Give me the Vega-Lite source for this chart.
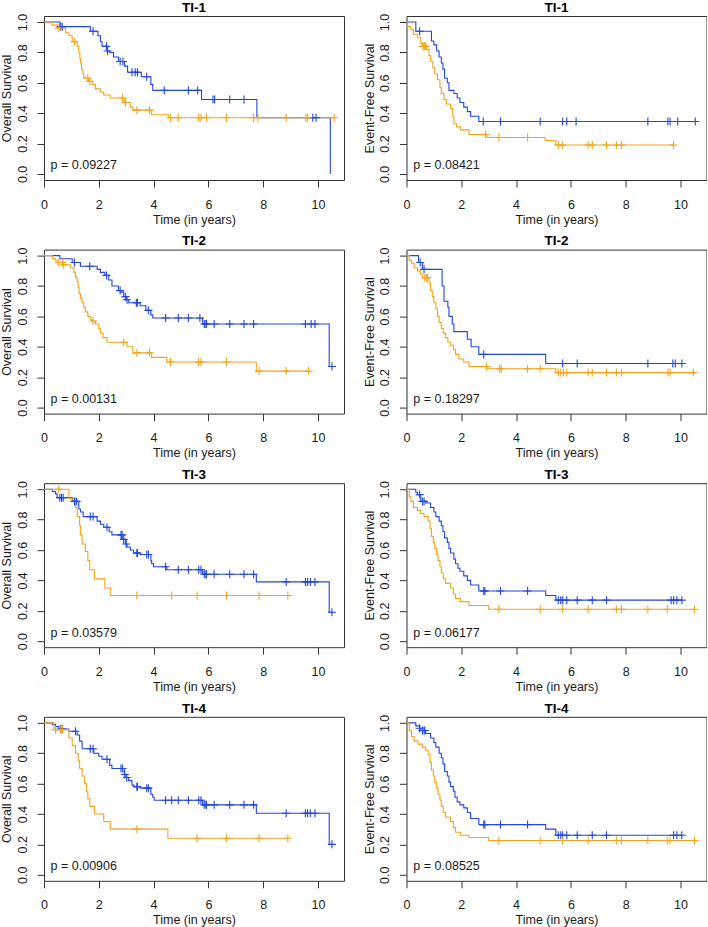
{
"$schema": "https://vega.github.io/schema/vega-lite/v6.json",
"background": "white",
"padding": 0,
"bounds": "flush",
"columns": 2,
"spacing": {"row": 69.6, "column": 62.5},
"datasets": {
"s": [
{"p":1,"g":"b","t":0,"v":1},{"p":1,"g":"b","t":0.58,"v":0.97},{"p":1,"g":"b","t":1.69,"v":0.94},{"p":1,"g":"b","t":1.97,"v":0.91},{"p":1,"g":"b","t":2.06,"v":0.87},{"p":1,"g":"b","t":2.12,"v":0.84},{"p":1,"g":"b","t":2.30,"v":0.81},{"p":1,"g":"b","t":2.40,"v":0.80},{"p":1,"g":"b","t":2.54,"v":0.77},{"p":1,"g":"b","t":2.72,"v":0.74},{"p":1,"g":"b","t":2.94,"v":0.71},{"p":1,"g":"b","t":3.05,"v":0.67},{"p":1,"g":"b","t":3.55,"v":0.64},{"p":1,"g":"b","t":3.90,"v":0.59},{"p":1,"g":"b","t":3.97,"v":0.55},{"p":1,"g":"b","t":5.75,"v":0.49},{"p":1,"g":"b","t":7.77,"v":0.37},{"p":1,"g":"b","t":10.45,"v":0},
{"p":1,"g":"o","t":0,"v":1},{"p":1,"g":"o","t":0.30,"v":0.98},{"p":1,"g":"o","t":0.48,"v":0.96},{"p":1,"g":"o","t":0.79,"v":0.93},{"p":1,"g":"o","t":0.91,"v":0.91},{"p":1,"g":"o","t":1.03,"v":0.87},{"p":1,"g":"o","t":1.21,"v":0.84},{"p":1,"g":"o","t":1.27,"v":0.80},{"p":1,"g":"o","t":1.31,"v":0.76},{"p":1,"g":"o","t":1.33,"v":0.73},{"p":1,"g":"o","t":1.37,"v":0.69},{"p":1,"g":"o","t":1.42,"v":0.66},{"p":1,"g":"o","t":1.45,"v":0.63},{"p":1,"g":"o","t":1.62,"v":0.61},{"p":1,"g":"o","t":1.76,"v":0.59},{"p":1,"g":"o","t":1.88,"v":0.56},{"p":1,"g":"o","t":2.06,"v":0.54},{"p":1,"g":"o","t":2.18,"v":0.52},{"p":1,"g":"o","t":2.42,"v":0.50},{"p":1,"g":"o","t":2.93,"v":0.47},{"p":1,"g":"o","t":3.15,"v":0.44},{"p":1,"g":"o","t":3.24,"v":0.42},{"p":1,"g":"o","t":3.93,"v":0.39},{"p":1,"g":"o","t":4.54,"v":0.37},{"p":1,"g":"o","t":10.59,"v":0.37},
{"p":2,"g":"b","t":0,"v":1},{"p":2,"g":"b","t":0.34,"v":0.94},{"p":2,"g":"b","t":0.91,"v":0.875},{"p":2,"g":"b","t":1.00,"v":0.85},{"p":2,"g":"b","t":1.10,"v":0.81},{"p":2,"g":"b","t":1.19,"v":0.77},{"p":2,"g":"b","t":1.27,"v":0.73},{"p":2,"g":"b","t":1.33,"v":0.69},{"p":2,"g":"b","t":1.39,"v":0.63},{"p":2,"g":"b","t":1.49,"v":0.60},{"p":2,"g":"b","t":1.55,"v":0.55},{"p":2,"g":"b","t":1.73,"v":0.53},{"p":2,"g":"b","t":1.85,"v":0.50},{"p":2,"g":"b","t":1.95,"v":0.47},{"p":2,"g":"b","t":2.09,"v":0.44},{"p":2,"g":"b","t":2.22,"v":0.41},{"p":2,"g":"b","t":2.34,"v":0.38},{"p":2,"g":"b","t":2.64,"v":0.345},{"p":2,"g":"b","t":10.54,"v":0.345},
{"p":2,"g":"o","t":0,"v":1},{"p":2,"g":"o","t":0.04,"v":0.97},{"p":2,"g":"o","t":0.16,"v":0.95},{"p":2,"g":"o","t":0.25,"v":0.92},{"p":2,"g":"o","t":0.40,"v":0.90},{"p":2,"g":"o","t":0.52,"v":0.86},{"p":2,"g":"o","t":0.58,"v":0.84},{"p":2,"g":"o","t":0.74,"v":0.82},{"p":2,"g":"o","t":0.82,"v":0.78},{"p":2,"g":"o","t":0.88,"v":0.74},{"p":2,"g":"o","t":0.96,"v":0.70},{"p":2,"g":"o","t":1.03,"v":0.66},{"p":2,"g":"o","t":1.13,"v":0.62},{"p":2,"g":"o","t":1.22,"v":0.57},{"p":2,"g":"o","t":1.27,"v":0.53},{"p":2,"g":"o","t":1.37,"v":0.49},{"p":2,"g":"o","t":1.46,"v":0.46},{"p":2,"g":"o","t":1.61,"v":0.43},{"p":2,"g":"o","t":1.69,"v":0.38},{"p":2,"g":"o","t":1.73,"v":0.33},{"p":2,"g":"o","t":1.83,"v":0.31},{"p":2,"g":"o","t":1.97,"v":0.29},{"p":2,"g":"o","t":2.28,"v":0.26},{"p":2,"g":"o","t":2.94,"v":0.24},{"p":2,"g":"o","t":5.06,"v":0.22},{"p":2,"g":"o","t":5.45,"v":0.19},{"p":2,"g":"o","t":9.75,"v":0.19},
{"p":3,"g":"b","t":0,"v":1},{"p":3,"g":"b","t":0.58,"v":0.98},{"p":3,"g":"b","t":1.03,"v":0.955},{"p":3,"g":"b","t":1.33,"v":0.93},{"p":3,"g":"b","t":1.94,"v":0.91},{"p":3,"g":"b","t":2.06,"v":0.89},{"p":3,"g":"b","t":2.22,"v":0.87},{"p":3,"g":"b","t":2.36,"v":0.84},{"p":3,"g":"b","t":2.48,"v":0.80},{"p":3,"g":"b","t":2.72,"v":0.77},{"p":3,"g":"b","t":2.81,"v":0.76},{"p":3,"g":"b","t":2.91,"v":0.73},{"p":3,"g":"b","t":3.00,"v":0.71},{"p":3,"g":"b","t":3.09,"v":0.69},{"p":3,"g":"b","t":3.51,"v":0.67},{"p":3,"g":"b","t":3.72,"v":0.64},{"p":3,"g":"b","t":3.90,"v":0.61},{"p":3,"g":"b","t":3.97,"v":0.59},{"p":3,"g":"b","t":5.79,"v":0.55},{"p":3,"g":"b","t":10.41,"v":0.27},{"p":3,"g":"b","t":10.51,"v":0.27},
{"p":3,"g":"o","t":0,"v":1},{"p":3,"g":"o","t":0.30,"v":0.98},{"p":3,"g":"o","t":0.42,"v":0.97},{"p":3,"g":"o","t":0.48,"v":0.955},{"p":3,"g":"o","t":0.69,"v":0.94},{"p":3,"g":"o","t":0.97,"v":0.92},{"p":3,"g":"o","t":1.09,"v":0.89},{"p":3,"g":"o","t":1.15,"v":0.86},{"p":3,"g":"o","t":1.21,"v":0.83},{"p":3,"g":"o","t":1.25,"v":0.79},{"p":3,"g":"o","t":1.28,"v":0.75},{"p":3,"g":"o","t":1.33,"v":0.72},{"p":3,"g":"o","t":1.39,"v":0.69},{"p":3,"g":"o","t":1.45,"v":0.66},{"p":3,"g":"o","t":1.51,"v":0.63},{"p":3,"g":"o","t":1.60,"v":0.60},{"p":3,"g":"o","t":1.69,"v":0.58},{"p":3,"g":"o","t":1.74,"v":0.57},{"p":3,"g":"o","t":1.88,"v":0.55},{"p":3,"g":"o","t":2.00,"v":0.52},{"p":3,"g":"o","t":2.06,"v":0.49},{"p":3,"g":"o","t":2.15,"v":0.46},{"p":3,"g":"o","t":2.30,"v":0.43},{"p":3,"g":"o","t":3.03,"v":0.40},{"p":3,"g":"o","t":3.24,"v":0.36},{"p":3,"g":"o","t":3.93,"v":0.33},{"p":3,"g":"o","t":4.48,"v":0.30},{"p":3,"g":"o","t":7.75,"v":0.24},{"p":3,"g":"o","t":9.66,"v":0.24},
{"p":4,"g":"b","t":0,"v":1},{"p":4,"g":"b","t":0.44,"v":0.955},{"p":4,"g":"b","t":0.58,"v":0.91},{"p":4,"g":"b","t":1.30,"v":0.80},{"p":4,"g":"b","t":1.37,"v":0.70},{"p":4,"g":"b","t":1.51,"v":0.66},{"p":4,"g":"b","t":1.55,"v":0.60},{"p":4,"g":"b","t":1.67,"v":0.55},{"p":4,"g":"b","t":1.73,"v":0.50},{"p":4,"g":"b","t":2.22,"v":0.45},{"p":4,"g":"b","t":2.36,"v":0.40},{"p":4,"g":"b","t":2.64,"v":0.35},{"p":4,"g":"b","t":5.08,"v":0.29},{"p":4,"g":"b","t":10.05,"v":0.29},
{"p":4,"g":"o","t":0,"v":1},{"p":4,"g":"o","t":0.10,"v":0.97},{"p":4,"g":"o","t":0.18,"v":0.95},{"p":4,"g":"o","t":0.28,"v":0.92},{"p":4,"g":"o","t":0.40,"v":0.90},{"p":4,"g":"o","t":0.50,"v":0.88},{"p":4,"g":"o","t":0.58,"v":0.855},{"p":4,"g":"o","t":0.82,"v":0.82},{"p":4,"g":"o","t":0.88,"v":0.77},{"p":4,"g":"o","t":0.94,"v":0.73},{"p":4,"g":"o","t":1.00,"v":0.69},{"p":4,"g":"o","t":1.07,"v":0.65},{"p":4,"g":"o","t":1.13,"v":0.60},{"p":4,"g":"o","t":1.19,"v":0.56},{"p":4,"g":"o","t":1.27,"v":0.52},{"p":4,"g":"o","t":1.34,"v":0.49},{"p":4,"g":"o","t":1.43,"v":0.46},{"p":4,"g":"o","t":1.51,"v":0.43},{"p":4,"g":"o","t":1.61,"v":0.41},{"p":4,"g":"o","t":1.71,"v":0.38},{"p":4,"g":"o","t":1.79,"v":0.35},{"p":4,"g":"o","t":1.91,"v":0.32},{"p":4,"g":"o","t":2.09,"v":0.30},{"p":4,"g":"o","t":2.28,"v":0.27},{"p":4,"g":"o","t":2.94,"v":0.255},{"p":4,"g":"o","t":5.45,"v":0.23},{"p":4,"g":"o","t":10.47,"v":0.23},
{"p":5,"g":"b","t":0,"v":1},{"p":5,"g":"b","t":0.30,"v":0.985},{"p":5,"g":"b","t":0.42,"v":0.97},{"p":5,"g":"b","t":0.48,"v":0.945},{"p":5,"g":"b","t":1.03,"v":0.92},{"p":5,"g":"b","t":1.27,"v":0.87},{"p":5,"g":"b","t":1.33,"v":0.85},{"p":5,"g":"b","t":1.43,"v":0.82},{"p":5,"g":"b","t":1.94,"v":0.79},{"p":5,"g":"b","t":2.06,"v":0.77},{"p":5,"g":"b","t":2.18,"v":0.75},{"p":5,"g":"b","t":2.38,"v":0.72},{"p":5,"g":"b","t":2.48,"v":0.70},{"p":5,"g":"b","t":2.85,"v":0.67},{"p":5,"g":"b","t":2.97,"v":0.64},{"p":5,"g":"b","t":3.03,"v":0.62},{"p":5,"g":"b","t":3.15,"v":0.60},{"p":5,"g":"b","t":3.27,"v":0.58},{"p":5,"g":"b","t":3.51,"v":0.57},{"p":5,"g":"b","t":3.90,"v":0.53},{"p":5,"g":"b","t":3.93,"v":0.51},{"p":5,"g":"b","t":4.00,"v":0.49},{"p":5,"g":"b","t":4.48,"v":0.47},{"p":5,"g":"b","t":5.79,"v":0.44},{"p":5,"g":"b","t":7.75,"v":0.39},{"p":5,"g":"b","t":10.41,"v":0.19},{"p":5,"g":"b","t":10.51,"v":0.19},
{"p":5,"g":"o","t":0,"v":1},{"p":5,"g":"o","t":0.91,"v":0.94},{"p":5,"g":"o","t":1.15,"v":0.88},{"p":5,"g":"o","t":1.21,"v":0.82},{"p":5,"g":"o","t":1.30,"v":0.76},{"p":5,"g":"o","t":1.33,"v":0.70},{"p":5,"g":"o","t":1.39,"v":0.64},{"p":5,"g":"o","t":1.51,"v":0.59},{"p":5,"g":"o","t":1.60,"v":0.53},{"p":5,"g":"o","t":1.67,"v":0.47},{"p":5,"g":"o","t":1.84,"v":0.41},{"p":5,"g":"o","t":2.22,"v":0.35},{"p":5,"g":"o","t":2.42,"v":0.30},{"p":5,"g":"o","t":8.90,"v":0.30},
{"p":6,"g":"b","t":0,"v":1},{"p":6,"g":"b","t":0.34,"v":0.98},{"p":6,"g":"b","t":0.40,"v":0.965},{"p":6,"g":"b","t":0.52,"v":0.92},{"p":6,"g":"b","t":0.70,"v":0.91},{"p":6,"g":"b","t":0.88,"v":0.88},{"p":6,"g":"b","t":1.00,"v":0.85},{"p":6,"g":"b","t":1.07,"v":0.82},{"p":6,"g":"b","t":1.19,"v":0.79},{"p":6,"g":"b","t":1.27,"v":0.76},{"p":6,"g":"b","t":1.33,"v":0.72},{"p":6,"g":"b","t":1.39,"v":0.68},{"p":6,"g":"b","t":1.49,"v":0.65},{"p":6,"g":"b","t":1.55,"v":0.61},{"p":6,"g":"b","t":1.61,"v":0.58},{"p":6,"g":"b","t":1.73,"v":0.54},{"p":6,"g":"b","t":1.79,"v":0.51},{"p":6,"g":"b","t":1.88,"v":0.48},{"p":6,"g":"b","t":1.95,"v":0.46},{"p":6,"g":"b","t":2.09,"v":0.43},{"p":6,"g":"b","t":2.22,"v":0.40},{"p":6,"g":"b","t":2.34,"v":0.37},{"p":6,"g":"b","t":2.64,"v":0.33},{"p":6,"g":"b","t":5.08,"v":0.30},{"p":6,"g":"b","t":5.45,"v":0.27},{"p":6,"g":"b","t":10.05,"v":0.27},
{"p":6,"g":"o","t":0,"v":1},{"p":6,"g":"o","t":0.10,"v":0.95},{"p":6,"g":"o","t":0.16,"v":0.92},{"p":6,"g":"o","t":0.25,"v":0.88},{"p":6,"g":"o","t":0.40,"v":0.86},{"p":6,"g":"o","t":0.52,"v":0.84},{"p":6,"g":"o","t":0.64,"v":0.82},{"p":6,"g":"o","t":0.79,"v":0.79},{"p":6,"g":"o","t":0.86,"v":0.74},{"p":6,"g":"o","t":0.91,"v":0.69},{"p":6,"g":"o","t":0.98,"v":0.65},{"p":6,"g":"o","t":1.03,"v":0.61},{"p":6,"g":"o","t":1.10,"v":0.57},{"p":6,"g":"o","t":1.15,"v":0.53},{"p":6,"g":"o","t":1.22,"v":0.49},{"p":6,"g":"o","t":1.27,"v":0.45},{"p":6,"g":"o","t":1.34,"v":0.41},{"p":6,"g":"o","t":1.43,"v":0.38},{"p":6,"g":"o","t":1.61,"v":0.35},{"p":6,"g":"o","t":1.71,"v":0.31},{"p":6,"g":"o","t":1.79,"v":0.28},{"p":6,"g":"o","t":1.97,"v":0.26},{"p":6,"g":"o","t":2.28,"v":0.235},{"p":6,"g":"o","t":3.00,"v":0.21},{"p":6,"g":"o","t":10.51,"v":0.21},
{"p":7,"g":"b","t":0,"v":1},{"p":7,"g":"b","t":0.30,"v":0.99},{"p":7,"g":"b","t":0.42,"v":0.975},{"p":7,"g":"b","t":0.55,"v":0.96},{"p":7,"g":"b","t":0.90,"v":0.945},{"p":7,"g":"b","t":1.21,"v":0.92},{"p":7,"g":"b","t":1.30,"v":0.88},{"p":7,"g":"b","t":1.39,"v":0.83},{"p":7,"g":"b","t":1.82,"v":0.80},{"p":7,"g":"b","t":2.00,"v":0.78},{"p":7,"g":"b","t":2.12,"v":0.76},{"p":7,"g":"b","t":2.40,"v":0.72},{"p":7,"g":"b","t":2.48,"v":0.70},{"p":7,"g":"b","t":2.93,"v":0.66},{"p":7,"g":"b","t":2.99,"v":0.64},{"p":7,"g":"b","t":3.09,"v":0.62},{"p":7,"g":"b","t":3.21,"v":0.59},{"p":7,"g":"b","t":3.29,"v":0.58},{"p":7,"g":"b","t":3.51,"v":0.57},{"p":7,"g":"b","t":3.90,"v":0.53},{"p":7,"g":"b","t":3.97,"v":0.51},{"p":7,"g":"b","t":4.02,"v":0.49},{"p":7,"g":"b","t":5.79,"v":0.46},{"p":7,"g":"b","t":7.75,"v":0.405},{"p":7,"g":"b","t":10.41,"v":0.20},{"p":7,"g":"b","t":10.51,"v":0.20},
{"p":7,"g":"o","t":0,"v":1},{"p":7,"g":"o","t":0.36,"v":0.955},{"p":7,"g":"o","t":0.91,"v":0.90},{"p":7,"g":"o","t":1.03,"v":0.85},{"p":7,"g":"o","t":1.15,"v":0.80},{"p":7,"g":"o","t":1.25,"v":0.75},{"p":7,"g":"o","t":1.30,"v":0.70},{"p":7,"g":"o","t":1.39,"v":0.65},{"p":7,"g":"o","t":1.48,"v":0.60},{"p":7,"g":"o","t":1.55,"v":0.55},{"p":7,"g":"o","t":1.60,"v":0.50},{"p":7,"g":"o","t":1.67,"v":0.45},{"p":7,"g":"o","t":1.84,"v":0.40},{"p":7,"g":"o","t":2.18,"v":0.35},{"p":7,"g":"o","t":2.42,"v":0.30},{"p":7,"g":"o","t":4.52,"v":0.24},{"p":7,"g":"o","t":8.90,"v":0.24},
{"p":8,"g":"b","t":0,"v":1},{"p":8,"g":"b","t":0.34,"v":0.98},{"p":8,"g":"b","t":0.48,"v":0.965},{"p":8,"g":"b","t":0.52,"v":0.95},{"p":8,"g":"b","t":0.70,"v":0.93},{"p":8,"g":"b","t":0.88,"v":0.90},{"p":8,"g":"b","t":1.00,"v":0.87},{"p":8,"g":"b","t":1.07,"v":0.84},{"p":8,"g":"b","t":1.19,"v":0.80},{"p":8,"g":"b","t":1.27,"v":0.77},{"p":8,"g":"b","t":1.33,"v":0.73},{"p":8,"g":"b","t":1.39,"v":0.68},{"p":8,"g":"b","t":1.49,"v":0.65},{"p":8,"g":"b","t":1.55,"v":0.61},{"p":8,"g":"b","t":1.61,"v":0.58},{"p":8,"g":"b","t":1.71,"v":0.55},{"p":8,"g":"b","t":1.77,"v":0.51},{"p":8,"g":"b","t":1.85,"v":0.48},{"p":8,"g":"b","t":1.95,"v":0.46},{"p":8,"g":"b","t":2.09,"v":0.44},{"p":8,"g":"b","t":2.22,"v":0.41},{"p":8,"g":"b","t":2.34,"v":0.37},{"p":8,"g":"b","t":2.64,"v":0.33},{"p":8,"g":"b","t":5.08,"v":0.30},{"p":8,"g":"b","t":5.45,"v":0.26},{"p":8,"g":"b","t":10.05,"v":0.26},
{"p":8,"g":"o","t":0,"v":1},{"p":8,"g":"o","t":0.10,"v":0.95},{"p":8,"g":"o","t":0.18,"v":0.91},{"p":8,"g":"o","t":0.28,"v":0.88},{"p":8,"g":"o","t":0.42,"v":0.86},{"p":8,"g":"o","t":0.58,"v":0.84},{"p":8,"g":"o","t":0.70,"v":0.82},{"p":8,"g":"o","t":0.79,"v":0.79},{"p":8,"g":"o","t":0.86,"v":0.74},{"p":8,"g":"o","t":0.91,"v":0.69},{"p":8,"g":"o","t":0.98,"v":0.65},{"p":8,"g":"o","t":1.03,"v":0.61},{"p":8,"g":"o","t":1.10,"v":0.57},{"p":8,"g":"o","t":1.15,"v":0.53},{"p":8,"g":"o","t":1.22,"v":0.49},{"p":8,"g":"o","t":1.27,"v":0.45},{"p":8,"g":"o","t":1.34,"v":0.41},{"p":8,"g":"o","t":1.43,"v":0.38},{"p":8,"g":"o","t":1.61,"v":0.35},{"p":8,"g":"o","t":1.71,"v":0.31},{"p":8,"g":"o","t":1.79,"v":0.28},{"p":8,"g":"o","t":1.97,"v":0.26},{"p":8,"g":"o","t":2.28,"v":0.245},{"p":8,"g":"o","t":3.00,"v":0.225},{"p":8,"g":"o","t":10.51,"v":0.225}
],
"c": [
{"p":1,"g":"b","t":0.61,"v":0.97},{"p":1,"g":"b","t":0.67,"v":0.97},{"p":1,"g":"b","t":1.79,"v":0.94},{"p":1,"g":"b","t":2.28,"v":0.84},{"p":1,"g":"b","t":2.32,"v":0.81},{"p":1,"g":"b","t":2.78,"v":0.74},{"p":1,"g":"b","t":2.88,"v":0.74},{"p":1,"g":"b","t":3.21,"v":0.67},{"p":1,"g":"b","t":3.33,"v":0.67},{"p":1,"g":"b","t":3.41,"v":0.67},{"p":1,"g":"b","t":3.75,"v":0.64},{"p":1,"g":"b","t":4.39,"v":0.55},{"p":1,"g":"b","t":5.27,"v":0.55},{"p":1,"g":"b","t":5.61,"v":0.55},{"p":1,"g":"b","t":6.17,"v":0.49},{"p":1,"g":"b","t":6.23,"v":0.49},{"p":1,"g":"b","t":6.78,"v":0.49},{"p":1,"g":"b","t":7.30,"v":0.49},{"p":1,"g":"b","t":9.81,"v":0.37},{"p":1,"g":"b","t":9.93,"v":0.37},
{"p":1,"g":"o","t":0.54,"v":0.96},{"p":1,"g":"o","t":1.11,"v":0.87},{"p":1,"g":"o","t":1.60,"v":0.63},{"p":1,"g":"o","t":1.67,"v":0.61},{"p":1,"g":"o","t":2.87,"v":0.50},{"p":1,"g":"o","t":2.97,"v":0.47},{"p":1,"g":"o","t":3.39,"v":0.42},{"p":1,"g":"o","t":3.85,"v":0.42},{"p":1,"g":"o","t":4.62,"v":0.37},{"p":1,"g":"o","t":4.90,"v":0.37},{"p":1,"g":"o","t":5.65,"v":0.37},{"p":1,"g":"o","t":5.73,"v":0.37},{"p":1,"g":"o","t":5.93,"v":0.37},{"p":1,"g":"o","t":6.66,"v":0.37},{"p":1,"g":"o","t":7.65,"v":0.37},{"p":1,"g":"o","t":7.81,"v":0.37},{"p":1,"g":"o","t":8.84,"v":0.37},{"p":1,"g":"o","t":9.56,"v":0.37},{"p":1,"g":"o","t":9.62,"v":0.37},{"p":1,"g":"o","t":10.59,"v":0.37},
{"p":2,"g":"b","t":0.48,"v":0.94},{"p":2,"g":"b","t":2.80,"v":0.345},{"p":2,"g":"b","t":3.43,"v":0.345},{"p":2,"g":"b","t":4.88,"v":0.345},{"p":2,"g":"b","t":5.70,"v":0.345},{"p":2,"g":"b","t":5.85,"v":0.345},{"p":2,"g":"b","t":6.19,"v":0.345},{"p":2,"g":"b","t":8.81,"v":0.345},{"p":2,"g":"b","t":9.54,"v":0.345},{"p":2,"g":"b","t":9.62,"v":0.345},{"p":2,"g":"b","t":9.90,"v":0.345},{"p":2,"g":"b","t":10.54,"v":0.345},
{"p":2,"g":"o","t":0.60,"v":0.84},{"p":2,"g":"o","t":0.64,"v":0.84},{"p":2,"g":"o","t":0.67,"v":0.84},{"p":2,"g":"o","t":0.70,"v":0.84},{"p":2,"g":"o","t":2.88,"v":0.26},{"p":2,"g":"o","t":3.37,"v":0.24},{"p":2,"g":"o","t":4.42,"v":0.24},{"p":2,"g":"o","t":5.54,"v":0.19},{"p":2,"g":"o","t":5.69,"v":0.19},{"p":2,"g":"o","t":6.63,"v":0.19},{"p":2,"g":"o","t":6.78,"v":0.19},{"p":2,"g":"o","t":7.30,"v":0.19},{"p":2,"g":"o","t":7.66,"v":0.19},{"p":2,"g":"o","t":7.85,"v":0.19},{"p":2,"g":"o","t":9.75,"v":0.19},
{"p":3,"g":"b","t":1.11,"v":0.955},{"p":3,"g":"b","t":1.67,"v":0.93},{"p":3,"g":"b","t":2.28,"v":0.87},{"p":3,"g":"b","t":2.78,"v":0.77},{"p":3,"g":"b","t":2.97,"v":0.73},{"p":3,"g":"b","t":3.03,"v":0.71},{"p":3,"g":"b","t":3.37,"v":0.69},{"p":3,"g":"b","t":3.41,"v":0.69},{"p":3,"g":"b","t":3.81,"v":0.64},{"p":3,"g":"b","t":4.44,"v":0.59},{"p":3,"g":"b","t":4.90,"v":0.59},{"p":3,"g":"b","t":5.27,"v":0.59},{"p":3,"g":"b","t":5.69,"v":0.59},{"p":3,"g":"b","t":5.85,"v":0.55},{"p":3,"g":"b","t":5.91,"v":0.55},{"p":3,"g":"b","t":5.93,"v":0.55},{"p":3,"g":"b","t":6.21,"v":0.55},{"p":3,"g":"b","t":6.78,"v":0.55},{"p":3,"g":"b","t":7.30,"v":0.55},{"p":3,"g":"b","t":7.65,"v":0.55},{"p":3,"g":"b","t":9.54,"v":0.55},{"p":3,"g":"b","t":9.75,"v":0.55},{"p":3,"g":"b","t":9.89,"v":0.55},{"p":3,"g":"b","t":10.51,"v":0.27},
{"p":3,"g":"o","t":0.54,"v":0.955},{"p":3,"g":"o","t":0.67,"v":0.955},{"p":3,"g":"o","t":0.72,"v":0.94},{"p":3,"g":"o","t":1.79,"v":0.57},{"p":3,"g":"o","t":2.91,"v":0.43},{"p":3,"g":"o","t":3.39,"v":0.36},{"p":3,"g":"o","t":3.85,"v":0.36},{"p":3,"g":"o","t":4.62,"v":0.30},{"p":3,"g":"o","t":5.64,"v":0.30},{"p":3,"g":"o","t":5.73,"v":0.30},{"p":3,"g":"o","t":6.66,"v":0.30},{"p":3,"g":"o","t":7.85,"v":0.24},{"p":3,"g":"o","t":8.84,"v":0.24},{"p":3,"g":"o","t":9.66,"v":0.24},
{"p":4,"g":"b","t":0.50,"v":0.955},{"p":4,"g":"b","t":0.64,"v":0.91},{"p":4,"g":"b","t":2.82,"v":0.35},{"p":4,"g":"b","t":5.70,"v":0.29},{"p":4,"g":"b","t":6.23,"v":0.29},{"p":4,"g":"b","t":8.81,"v":0.29},{"p":4,"g":"b","t":9.72,"v":0.29},{"p":4,"g":"b","t":9.81,"v":0.29},{"p":4,"g":"b","t":10.05,"v":0.29},
{"p":4,"g":"o","t":0.67,"v":0.855},{"p":4,"g":"o","t":0.72,"v":0.855},{"p":4,"g":"o","t":0.76,"v":0.855},{"p":4,"g":"o","t":2.92,"v":0.27},{"p":4,"g":"o","t":3.40,"v":0.255},{"p":4,"g":"o","t":3.46,"v":0.255},{"p":4,"g":"o","t":4.42,"v":0.255},{"p":4,"g":"o","t":4.88,"v":0.255},{"p":4,"g":"o","t":5.54,"v":0.23},{"p":4,"g":"o","t":5.63,"v":0.23},{"p":4,"g":"o","t":5.73,"v":0.23},{"p":4,"g":"o","t":5.85,"v":0.23},{"p":4,"g":"o","t":6.63,"v":0.23},{"p":4,"g":"o","t":6.78,"v":0.23},{"p":4,"g":"o","t":7.30,"v":0.23},{"p":4,"g":"o","t":7.66,"v":0.23},{"p":4,"g":"o","t":7.85,"v":0.23},{"p":4,"g":"o","t":9.54,"v":0.23},{"p":4,"g":"o","t":9.62,"v":0.23},{"p":4,"g":"o","t":10.47,"v":0.23},
{"p":5,"g":"b","t":0.58,"v":0.945},{"p":5,"g":"b","t":0.64,"v":0.945},{"p":5,"g":"b","t":0.70,"v":0.945},{"p":5,"g":"b","t":1.11,"v":0.92},{"p":5,"g":"b","t":1.19,"v":0.92},{"p":5,"g":"b","t":1.69,"v":0.82},{"p":5,"g":"b","t":1.79,"v":0.82},{"p":5,"g":"b","t":2.30,"v":0.75},{"p":5,"g":"b","t":2.81,"v":0.70},{"p":5,"g":"b","t":2.85,"v":0.70},{"p":5,"g":"b","t":2.91,"v":0.67},{"p":5,"g":"b","t":3.00,"v":0.64},{"p":5,"g":"b","t":3.39,"v":0.58},{"p":5,"g":"b","t":3.41,"v":0.58},{"p":5,"g":"b","t":3.75,"v":0.57},{"p":5,"g":"b","t":3.81,"v":0.57},{"p":5,"g":"b","t":4.44,"v":0.49},{"p":5,"g":"b","t":4.90,"v":0.47},{"p":5,"g":"b","t":5.27,"v":0.47},{"p":5,"g":"b","t":5.65,"v":0.47},{"p":5,"g":"b","t":5.73,"v":0.47},{"p":5,"g":"b","t":5.85,"v":0.44},{"p":5,"g":"b","t":5.91,"v":0.44},{"p":5,"g":"b","t":5.93,"v":0.44},{"p":5,"g":"b","t":6.21,"v":0.44},{"p":5,"g":"b","t":6.78,"v":0.44},{"p":5,"g":"b","t":7.30,"v":0.44},{"p":5,"g":"b","t":7.65,"v":0.44},{"p":5,"g":"b","t":8.84,"v":0.39},{"p":5,"g":"b","t":9.54,"v":0.39},{"p":5,"g":"b","t":9.62,"v":0.39},{"p":5,"g":"b","t":9.72,"v":0.39},{"p":5,"g":"b","t":9.89,"v":0.39},{"p":5,"g":"b","t":10.51,"v":0.19},
{"p":5,"g":"o","t":0.54,"v":1},{"p":5,"g":"o","t":3.39,"v":0.30},{"p":5,"g":"o","t":4.66,"v":0.30},{"p":5,"g":"o","t":5.59,"v":0.30},{"p":5,"g":"o","t":6.66,"v":0.30},{"p":5,"g":"o","t":7.85,"v":0.30},{"p":5,"g":"o","t":8.90,"v":0.30},
{"p":6,"g":"b","t":0.48,"v":0.965},{"p":6,"g":"b","t":0.58,"v":0.92},{"p":6,"g":"b","t":0.64,"v":0.92},{"p":6,"g":"b","t":2.82,"v":0.33},{"p":6,"g":"b","t":2.86,"v":0.33},{"p":6,"g":"b","t":3.43,"v":0.33},{"p":6,"g":"b","t":4.42,"v":0.33},{"p":6,"g":"b","t":5.54,"v":0.27},{"p":6,"g":"b","t":5.63,"v":0.27},{"p":6,"g":"b","t":5.70,"v":0.27},{"p":6,"g":"b","t":5.85,"v":0.27},{"p":6,"g":"b","t":6.23,"v":0.27},{"p":6,"g":"b","t":6.78,"v":0.27},{"p":6,"g":"b","t":7.30,"v":0.27},{"p":6,"g":"b","t":9.66,"v":0.27},{"p":6,"g":"b","t":9.75,"v":0.27},{"p":6,"g":"b","t":9.87,"v":0.27},{"p":6,"g":"b","t":10.05,"v":0.27},
{"p":6,"g":"o","t":3.37,"v":0.21},{"p":6,"g":"o","t":4.88,"v":0.21},{"p":6,"g":"o","t":5.70,"v":0.21},{"p":6,"g":"o","t":6.63,"v":0.21},{"p":6,"g":"o","t":7.66,"v":0.21},{"p":6,"g":"o","t":7.85,"v":0.21},{"p":6,"g":"o","t":8.81,"v":0.21},{"p":6,"g":"o","t":9.52,"v":0.21},{"p":6,"g":"o","t":10.51,"v":0.21},
{"p":7,"g":"b","t":0.61,"v":0.96},{"p":7,"g":"b","t":0.67,"v":0.96},{"p":7,"g":"b","t":1.15,"v":0.945},{"p":7,"g":"b","t":1.69,"v":0.83},{"p":7,"g":"b","t":1.79,"v":0.83},{"p":7,"g":"b","t":2.30,"v":0.76},{"p":7,"g":"b","t":2.81,"v":0.70},{"p":7,"g":"b","t":2.87,"v":0.70},{"p":7,"g":"b","t":2.95,"v":0.66},{"p":7,"g":"b","t":3.02,"v":0.64},{"p":7,"g":"b","t":3.39,"v":0.58},{"p":7,"g":"b","t":3.41,"v":0.58},{"p":7,"g":"b","t":3.75,"v":0.57},{"p":7,"g":"b","t":3.81,"v":0.57},{"p":7,"g":"b","t":4.44,"v":0.49},{"p":7,"g":"b","t":4.66,"v":0.49},{"p":7,"g":"b","t":4.90,"v":0.49},{"p":7,"g":"b","t":5.27,"v":0.49},{"p":7,"g":"b","t":5.65,"v":0.49},{"p":7,"g":"b","t":5.73,"v":0.49},{"p":7,"g":"b","t":5.85,"v":0.46},{"p":7,"g":"b","t":5.91,"v":0.46},{"p":7,"g":"b","t":5.93,"v":0.46},{"p":7,"g":"b","t":6.21,"v":0.46},{"p":7,"g":"b","t":6.78,"v":0.46},{"p":7,"g":"b","t":7.30,"v":0.46},{"p":7,"g":"b","t":7.65,"v":0.46},{"p":7,"g":"b","t":8.84,"v":0.405},{"p":7,"g":"b","t":9.54,"v":0.405},{"p":7,"g":"b","t":9.62,"v":0.405},{"p":7,"g":"b","t":9.72,"v":0.405},{"p":7,"g":"b","t":9.89,"v":0.405},{"p":7,"g":"b","t":10.51,"v":0.20},
{"p":7,"g":"o","t":0.42,"v":0.955},{"p":7,"g":"o","t":0.61,"v":0.955},{"p":7,"g":"o","t":0.67,"v":0.955},{"p":7,"g":"o","t":3.39,"v":0.30},{"p":7,"g":"o","t":5.59,"v":0.24},{"p":7,"g":"o","t":6.66,"v":0.24},{"p":7,"g":"o","t":7.85,"v":0.24},{"p":7,"g":"o","t":8.90,"v":0.24},
{"p":8,"g":"b","t":0.48,"v":0.965},{"p":8,"g":"b","t":0.58,"v":0.95},{"p":8,"g":"b","t":0.64,"v":0.95},{"p":8,"g":"b","t":0.67,"v":0.95},{"p":8,"g":"b","t":2.82,"v":0.33},{"p":8,"g":"b","t":2.86,"v":0.33},{"p":8,"g":"b","t":3.43,"v":0.33},{"p":8,"g":"b","t":4.42,"v":0.33},{"p":8,"g":"b","t":5.54,"v":0.26},{"p":8,"g":"b","t":5.63,"v":0.26},{"p":8,"g":"b","t":5.70,"v":0.26},{"p":8,"g":"b","t":5.85,"v":0.26},{"p":8,"g":"b","t":6.23,"v":0.26},{"p":8,"g":"b","t":6.78,"v":0.26},{"p":8,"g":"b","t":7.30,"v":0.26},{"p":8,"g":"b","t":9.75,"v":0.26},{"p":8,"g":"b","t":9.87,"v":0.26},{"p":8,"g":"b","t":10.05,"v":0.26},
{"p":8,"g":"o","t":3.37,"v":0.225},{"p":8,"g":"o","t":4.88,"v":0.225},{"p":8,"g":"o","t":5.70,"v":0.225},{"p":8,"g":"o","t":6.63,"v":0.225},{"p":8,"g":"o","t":7.66,"v":0.225},{"p":8,"g":"o","t":7.85,"v":0.225},{"p":8,"g":"o","t":8.81,"v":0.225},{"p":8,"g":"o","t":9.52,"v":0.225},{"p":8,"g":"o","t":9.62,"v":0.225},{"p":8,"g":"o","t":10.51,"v":0.225}
],
"pv": [
{"p":1,"lab":"p = 0.09227"},{"p":2,"lab":"p = 0.08421"},{"p":3,"lab":"p = 0.00131"},{"p":4,"lab":"p = 0.18297"},{"p":5,"lab":"p = 0.03579"},{"p":6,"lab":"p = 0.06177"},{"p":7,"lab":"p = 0.00906"},{"p":8,"lab":"p = 0.08525"}
]
},
"concat": [
{"title":"TI-1","width":300,"height":164,"layer":[
 {"data":{"name":"s"},"transform":[{"filter":"datum.p==1"}],"mark":{"type":"line","interpolate":"step-after","strokeWidth":1.1},"encoding":{"x":{"field":"t","type":"quantitative","title":"Time (in years)","scale":{"domain":[0,10.95],"nice":false,"zero":false},"axis":{"values":[0,2,4,6,8,10]}},"y":{"field":"v","type":"quantitative","title":"Overall Survival","scale":{"domain":[-0.04,1.04],"nice":false,"zero":false},"axis":{"values":[0,0.2,0.4,0.6,0.8,1],"format":".1f"}},"color":{"field":"g","type":"nominal","scale":{"domain":["b","o"],"range":["#2346dc","#f3a41c"]},"legend":null}}},
 {"data":{"name":"c"},"transform":[{"filter":"datum.p==1"}],"mark":{"type":"point","shape":"M-1,0L1,0M0,-1L0,1","size":64,"filled":false,"strokeWidth":1.1,"opacity":1},"encoding":{"x":{"field":"t","type":"quantitative","title":"Time (in years)","scale":{"domain":[0,10.95],"nice":false,"zero":false},"axis":{"values":[0,2,4,6,8,10]}},"y":{"field":"v","type":"quantitative","title":"Overall Survival","scale":{"domain":[-0.04,1.04],"nice":false,"zero":false},"axis":{"values":[0,0.2,0.4,0.6,0.8,1],"format":".1f"}},"color":{"field":"g","type":"nominal","scale":{"domain":["b","o"],"range":["#2346dc","#f3a41c"]},"legend":null}}},
 {"data":{"name":"pv"},"transform":[{"filter":"datum.p==1"}],"mark":{"type":"text","align":"left","baseline":"alphabetic","fontSize":12.5,"fill":"#1a1a1a"},"encoding":{"x":{"datum":0.24,"axis":{"values":[0,2,4,6,8,10]}},"y":{"datum":0.03,"axis":{"values":[0,0.2,0.4,0.6,0.8,1],"format":".1f"}},"text":{"field":"lab","type":"nominal"}}}
]},
{"title":"TI-1","width":300,"height":164,"layer":[
 {"data":{"name":"s"},"transform":[{"filter":"datum.p==2"}],"mark":{"type":"line","interpolate":"step-after","strokeWidth":1.1},"encoding":{"x":{"field":"t","type":"quantitative","title":"Time (in years)","scale":{"domain":[0,10.95],"nice":false,"zero":false},"axis":{"values":[0,2,4,6,8,10]}},"y":{"field":"v","type":"quantitative","title":"Event-Free Survival","scale":{"domain":[-0.04,1.04],"nice":false,"zero":false},"axis":{"values":[0,0.2,0.4,0.6,0.8,1],"format":".1f"}},"color":{"field":"g","type":"nominal","scale":{"domain":["b","o"],"range":["#2346dc","#f3a41c"]},"legend":null}}},
 {"data":{"name":"c"},"transform":[{"filter":"datum.p==2"}],"mark":{"type":"point","shape":"M-1,0L1,0M0,-1L0,1","size":64,"filled":false,"strokeWidth":1.1,"opacity":1},"encoding":{"x":{"field":"t","type":"quantitative","title":"Time (in years)","scale":{"domain":[0,10.95],"nice":false,"zero":false},"axis":{"values":[0,2,4,6,8,10]}},"y":{"field":"v","type":"quantitative","title":"Event-Free Survival","scale":{"domain":[-0.04,1.04],"nice":false,"zero":false},"axis":{"values":[0,0.2,0.4,0.6,0.8,1],"format":".1f"}},"color":{"field":"g","type":"nominal","scale":{"domain":["b","o"],"range":["#2346dc","#f3a41c"]},"legend":null}}},
 {"data":{"name":"pv"},"transform":[{"filter":"datum.p==2"}],"mark":{"type":"text","align":"left","baseline":"alphabetic","fontSize":12.5,"fill":"#1a1a1a"},"encoding":{"x":{"datum":0.25,"axis":{"values":[0,2,4,6,8,10]}},"y":{"datum":0.03,"axis":{"values":[0,0.2,0.4,0.6,0.8,1],"format":".1f"}},"text":{"field":"lab","type":"nominal"}}}
]},
{"title":"TI-2","width":300,"height":164,"layer":[
 {"data":{"name":"s"},"transform":[{"filter":"datum.p==3"}],"mark":{"type":"line","interpolate":"step-after","strokeWidth":1.1},"encoding":{"x":{"field":"t","type":"quantitative","title":"Time (in years)","scale":{"domain":[0,10.95],"nice":false,"zero":false},"axis":{"values":[0,2,4,6,8,10]}},"y":{"field":"v","type":"quantitative","title":"Overall Survival","scale":{"domain":[-0.04,1.04],"nice":false,"zero":false},"axis":{"values":[0,0.2,0.4,0.6,0.8,1],"format":".1f"}},"color":{"field":"g","type":"nominal","scale":{"domain":["b","o"],"range":["#2346dc","#f3a41c"]},"legend":null}}},
 {"data":{"name":"c"},"transform":[{"filter":"datum.p==3"}],"mark":{"type":"point","shape":"M-1,0L1,0M0,-1L0,1","size":64,"filled":false,"strokeWidth":1.1,"opacity":1},"encoding":{"x":{"field":"t","type":"quantitative","title":"Time (in years)","scale":{"domain":[0,10.95],"nice":false,"zero":false},"axis":{"values":[0,2,4,6,8,10]}},"y":{"field":"v","type":"quantitative","title":"Overall Survival","scale":{"domain":[-0.04,1.04],"nice":false,"zero":false},"axis":{"values":[0,0.2,0.4,0.6,0.8,1],"format":".1f"}},"color":{"field":"g","type":"nominal","scale":{"domain":["b","o"],"range":["#2346dc","#f3a41c"]},"legend":null}}},
 {"data":{"name":"pv"},"transform":[{"filter":"datum.p==3"}],"mark":{"type":"text","align":"left","baseline":"alphabetic","fontSize":12.5,"fill":"#1a1a1a"},"encoding":{"x":{"datum":0.24,"axis":{"values":[0,2,4,6,8,10]}},"y":{"datum":0.03,"axis":{"values":[0,0.2,0.4,0.6,0.8,1],"format":".1f"}},"text":{"field":"lab","type":"nominal"}}}
]},
{"title":"TI-2","width":300,"height":164,"layer":[
 {"data":{"name":"s"},"transform":[{"filter":"datum.p==4"}],"mark":{"type":"line","interpolate":"step-after","strokeWidth":1.1},"encoding":{"x":{"field":"t","type":"quantitative","title":"Time (in years)","scale":{"domain":[0,10.95],"nice":false,"zero":false},"axis":{"values":[0,2,4,6,8,10]}},"y":{"field":"v","type":"quantitative","title":"Event-Free Survival","scale":{"domain":[-0.04,1.04],"nice":false,"zero":false},"axis":{"values":[0,0.2,0.4,0.6,0.8,1],"format":".1f"}},"color":{"field":"g","type":"nominal","scale":{"domain":["b","o"],"range":["#2346dc","#f3a41c"]},"legend":null}}},
 {"data":{"name":"c"},"transform":[{"filter":"datum.p==4"}],"mark":{"type":"point","shape":"M-1,0L1,0M0,-1L0,1","size":64,"filled":false,"strokeWidth":1.1,"opacity":1},"encoding":{"x":{"field":"t","type":"quantitative","title":"Time (in years)","scale":{"domain":[0,10.95],"nice":false,"zero":false},"axis":{"values":[0,2,4,6,8,10]}},"y":{"field":"v","type":"quantitative","title":"Event-Free Survival","scale":{"domain":[-0.04,1.04],"nice":false,"zero":false},"axis":{"values":[0,0.2,0.4,0.6,0.8,1],"format":".1f"}},"color":{"field":"g","type":"nominal","scale":{"domain":["b","o"],"range":["#2346dc","#f3a41c"]},"legend":null}}},
 {"data":{"name":"pv"},"transform":[{"filter":"datum.p==4"}],"mark":{"type":"text","align":"left","baseline":"alphabetic","fontSize":12.5,"fill":"#1a1a1a"},"encoding":{"x":{"datum":0.25,"axis":{"values":[0,2,4,6,8,10]}},"y":{"datum":0.03,"axis":{"values":[0,0.2,0.4,0.6,0.8,1],"format":".1f"}},"text":{"field":"lab","type":"nominal"}}}
]},
{"title":"TI-3","width":300,"height":164,"layer":[
 {"data":{"name":"s"},"transform":[{"filter":"datum.p==5"}],"mark":{"type":"line","interpolate":"step-after","strokeWidth":1.1},"encoding":{"x":{"field":"t","type":"quantitative","title":"Time (in years)","scale":{"domain":[0,10.95],"nice":false,"zero":false},"axis":{"values":[0,2,4,6,8,10]}},"y":{"field":"v","type":"quantitative","title":"Overall Survival","scale":{"domain":[-0.04,1.04],"nice":false,"zero":false},"axis":{"values":[0,0.2,0.4,0.6,0.8,1],"format":".1f"}},"color":{"field":"g","type":"nominal","scale":{"domain":["b","o"],"range":["#2346dc","#f3a41c"]},"legend":null}}},
 {"data":{"name":"c"},"transform":[{"filter":"datum.p==5"}],"mark":{"type":"point","shape":"M-1,0L1,0M0,-1L0,1","size":64,"filled":false,"strokeWidth":1.1,"opacity":1},"encoding":{"x":{"field":"t","type":"quantitative","title":"Time (in years)","scale":{"domain":[0,10.95],"nice":false,"zero":false},"axis":{"values":[0,2,4,6,8,10]}},"y":{"field":"v","type":"quantitative","title":"Overall Survival","scale":{"domain":[-0.04,1.04],"nice":false,"zero":false},"axis":{"values":[0,0.2,0.4,0.6,0.8,1],"format":".1f"}},"color":{"field":"g","type":"nominal","scale":{"domain":["b","o"],"range":["#2346dc","#f3a41c"]},"legend":null}}},
 {"data":{"name":"pv"},"transform":[{"filter":"datum.p==5"}],"mark":{"type":"text","align":"left","baseline":"alphabetic","fontSize":12.5,"fill":"#1a1a1a"},"encoding":{"x":{"datum":0.24,"axis":{"values":[0,2,4,6,8,10]}},"y":{"datum":0.03,"axis":{"values":[0,0.2,0.4,0.6,0.8,1],"format":".1f"}},"text":{"field":"lab","type":"nominal"}}}
]},
{"title":"TI-3","width":300,"height":164,"layer":[
 {"data":{"name":"s"},"transform":[{"filter":"datum.p==6"}],"mark":{"type":"line","interpolate":"step-after","strokeWidth":1.1},"encoding":{"x":{"field":"t","type":"quantitative","title":"Time (in years)","scale":{"domain":[0,10.95],"nice":false,"zero":false},"axis":{"values":[0,2,4,6,8,10]}},"y":{"field":"v","type":"quantitative","title":"Event-Free Survival","scale":{"domain":[-0.04,1.04],"nice":false,"zero":false},"axis":{"values":[0,0.2,0.4,0.6,0.8,1],"format":".1f"}},"color":{"field":"g","type":"nominal","scale":{"domain":["b","o"],"range":["#2346dc","#f3a41c"]},"legend":null}}},
 {"data":{"name":"c"},"transform":[{"filter":"datum.p==6"}],"mark":{"type":"point","shape":"M-1,0L1,0M0,-1L0,1","size":64,"filled":false,"strokeWidth":1.1,"opacity":1},"encoding":{"x":{"field":"t","type":"quantitative","title":"Time (in years)","scale":{"domain":[0,10.95],"nice":false,"zero":false},"axis":{"values":[0,2,4,6,8,10]}},"y":{"field":"v","type":"quantitative","title":"Event-Free Survival","scale":{"domain":[-0.04,1.04],"nice":false,"zero":false},"axis":{"values":[0,0.2,0.4,0.6,0.8,1],"format":".1f"}},"color":{"field":"g","type":"nominal","scale":{"domain":["b","o"],"range":["#2346dc","#f3a41c"]},"legend":null}}},
 {"data":{"name":"pv"},"transform":[{"filter":"datum.p==6"}],"mark":{"type":"text","align":"left","baseline":"alphabetic","fontSize":12.5,"fill":"#1a1a1a"},"encoding":{"x":{"datum":0.25,"axis":{"values":[0,2,4,6,8,10]}},"y":{"datum":0.03,"axis":{"values":[0,0.2,0.4,0.6,0.8,1],"format":".1f"}},"text":{"field":"lab","type":"nominal"}}}
]},
{"title":"TI-4","width":300,"height":164,"layer":[
 {"data":{"name":"s"},"transform":[{"filter":"datum.p==7"}],"mark":{"type":"line","interpolate":"step-after","strokeWidth":1.1},"encoding":{"x":{"field":"t","type":"quantitative","title":"Time (in years)","scale":{"domain":[0,10.95],"nice":false,"zero":false},"axis":{"values":[0,2,4,6,8,10]}},"y":{"field":"v","type":"quantitative","title":"Overall Survival","scale":{"domain":[-0.04,1.04],"nice":false,"zero":false},"axis":{"values":[0,0.2,0.4,0.6,0.8,1],"format":".1f"}},"color":{"field":"g","type":"nominal","scale":{"domain":["b","o"],"range":["#2346dc","#f3a41c"]},"legend":null}}},
 {"data":{"name":"c"},"transform":[{"filter":"datum.p==7"}],"mark":{"type":"point","shape":"M-1,0L1,0M0,-1L0,1","size":64,"filled":false,"strokeWidth":1.1,"opacity":1},"encoding":{"x":{"field":"t","type":"quantitative","title":"Time (in years)","scale":{"domain":[0,10.95],"nice":false,"zero":false},"axis":{"values":[0,2,4,6,8,10]}},"y":{"field":"v","type":"quantitative","title":"Overall Survival","scale":{"domain":[-0.04,1.04],"nice":false,"zero":false},"axis":{"values":[0,0.2,0.4,0.6,0.8,1],"format":".1f"}},"color":{"field":"g","type":"nominal","scale":{"domain":["b","o"],"range":["#2346dc","#f3a41c"]},"legend":null}}},
 {"data":{"name":"pv"},"transform":[{"filter":"datum.p==7"}],"mark":{"type":"text","align":"left","baseline":"alphabetic","fontSize":12.5,"fill":"#1a1a1a"},"encoding":{"x":{"datum":0.24,"axis":{"values":[0,2,4,6,8,10]}},"y":{"datum":0.03,"axis":{"values":[0,0.2,0.4,0.6,0.8,1],"format":".1f"}},"text":{"field":"lab","type":"nominal"}}}
]},
{"title":"TI-4","width":300,"height":164,"layer":[
 {"data":{"name":"s"},"transform":[{"filter":"datum.p==8"}],"mark":{"type":"line","interpolate":"step-after","strokeWidth":1.1},"encoding":{"x":{"field":"t","type":"quantitative","title":"Time (in years)","scale":{"domain":[0,10.95],"nice":false,"zero":false},"axis":{"values":[0,2,4,6,8,10]}},"y":{"field":"v","type":"quantitative","title":"Event-Free Survival","scale":{"domain":[-0.04,1.04],"nice":false,"zero":false},"axis":{"values":[0,0.2,0.4,0.6,0.8,1],"format":".1f"}},"color":{"field":"g","type":"nominal","scale":{"domain":["b","o"],"range":["#2346dc","#f3a41c"]},"legend":null}}},
 {"data":{"name":"c"},"transform":[{"filter":"datum.p==8"}],"mark":{"type":"point","shape":"M-1,0L1,0M0,-1L0,1","size":64,"filled":false,"strokeWidth":1.1,"opacity":1},"encoding":{"x":{"field":"t","type":"quantitative","title":"Time (in years)","scale":{"domain":[0,10.95],"nice":false,"zero":false},"axis":{"values":[0,2,4,6,8,10]}},"y":{"field":"v","type":"quantitative","title":"Event-Free Survival","scale":{"domain":[-0.04,1.04],"nice":false,"zero":false},"axis":{"values":[0,0.2,0.4,0.6,0.8,1],"format":".1f"}},"color":{"field":"g","type":"nominal","scale":{"domain":["b","o"],"range":["#2346dc","#f3a41c"]},"legend":null}}},
 {"data":{"name":"pv"},"transform":[{"filter":"datum.p==8"}],"mark":{"type":"text","align":"left","baseline":"alphabetic","fontSize":12.5,"fill":"#1a1a1a"},"encoding":{"x":{"datum":0.25,"axis":{"values":[0,2,4,6,8,10]}},"y":{"datum":0.03,"axis":{"values":[0,0.2,0.4,0.6,0.8,1],"format":".1f"}},"text":{"field":"lab","type":"nominal"}}}
]}
],
"config": {
 "font": "Liberation Sans",
 "view": {"stroke": "#333333", "strokeWidth": 1},
 "axis": {"domain": false, "grid": false, "ticks": true, "tickSize": 7, "tickColor": "#333333", "tickWidth": 1, "labelFont": "Liberation Sans", "labelFontSize": 12.5, "labelColor": "#1a1a1a", "titleFont": "Liberation Sans", "titleFontSize": 12.5, "titleFontWeight": "normal", "titleColor": "#1a1a1a", "labelOverlap": false, "labelFlush": false},
 "axisX": {"labelPadding": 21, "labelBaseline": "alphabetic", "labelAngle": 0, "labelAlign": "center", "titleBaseline": "alphabetic", "titleY": 43, "titlePadding": 0},
 "axisY": {"labelAngle": -90, "labelAlign": "center", "labelBaseline": "alphabetic", "labelPadding": 11, "titleX": -33.3, "titleY": 82, "titleAngle": -90, "titleAlign": "center", "titleBaseline": "alphabetic"},
 "title": {"font": "Liberation Sans", "fontSize": 13.5, "fontWeight": "bold", "color": "#000000", "anchor": "middle", "baseline": "alphabetic", "offset": -1, "frame": "group"}
}
}
